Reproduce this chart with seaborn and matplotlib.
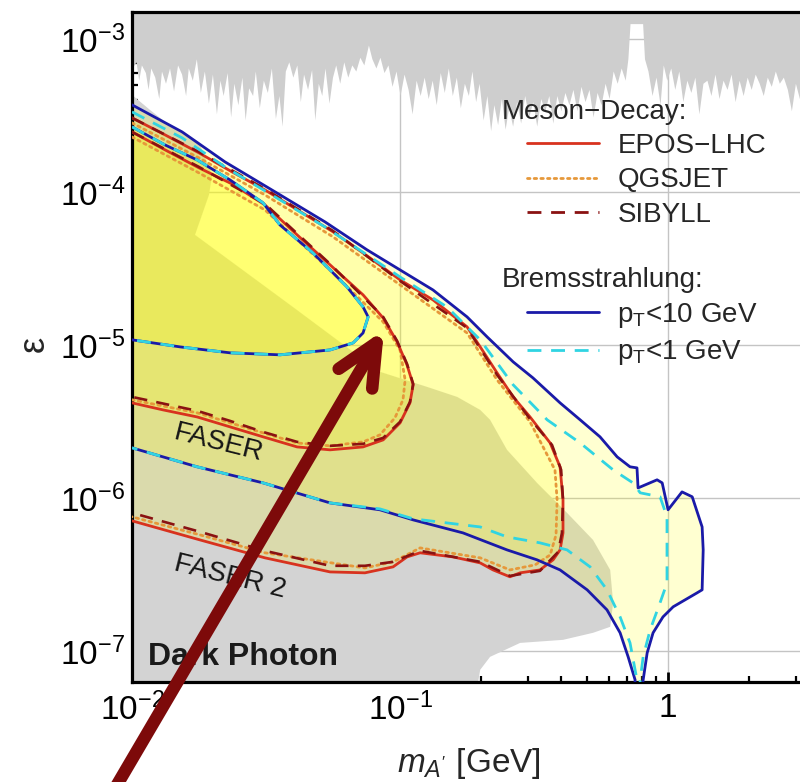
import numpy as np
import matplotlib
matplotlib.use("Agg")
import matplotlib.pyplot as plt
from matplotlib.lines import Line2D
from matplotlib.ticker import FixedLocator, FixedFormatter, LogLocator, NullFormatter
import seaborn as sns

# ---- values, stored as log10(m_A' / GeV) and log10(eps) ----
# existing limits from above: lower edge of the jagged grey band, (log m, log eps) pairs
TOP_BAND_EDGE = [
    (-2.000, -3.19), (-1.985, -3.15), (-1.975, -3.27), (-1.965, -3.17), (-1.950, -3.22),
    (-1.940, -3.33), (-1.930, -3.19), (-1.915, -3.25), (-1.900, -3.39), (-1.890, -3.21),
    (-1.875, -3.29), (-1.860, -3.19), (-1.845, -3.34), (-1.830, -3.17), (-1.815, -3.23),
    (-1.800, -3.37), (-1.790, -3.19), (-1.775, -3.27), (-1.760, -3.13), (-1.745, -3.35),
    (-1.730, -3.21), (-1.715, -3.42), (-1.700, -3.23), (-1.685, -3.49), (-1.672, -3.27),
    (-1.660, -3.37), (-1.645, -3.22), (-1.632, -3.51), (-1.620, -3.29), (-1.605, -3.43),
    (-1.590, -3.25), (-1.578, -3.53), (-1.565, -3.32), (-1.550, -3.37), (-1.540, -3.21),
    (-1.525, -3.45), (-1.510, -3.27), (-1.495, -3.35), (-1.480, -3.19), (-1.465, -3.52),
    (-1.452, -3.37), (-1.440, -3.57), (-1.428, -3.21), (-1.415, -3.15), (-1.400, -3.25),
    (-1.385, -3.17), (-1.372, -3.41), (-1.360, -3.23), (-1.345, -3.33), (-1.330, -3.20),
    (-1.318, -3.53), (-1.305, -3.29), (-1.292, -3.37), (-1.280, -3.19), (-1.265, -3.42),
    (-1.252, -3.25), (-1.240, -3.17), (-1.225, -3.29), (-1.210, -3.15), (-1.195, -3.25),
    (-1.180, -3.17), (-1.165, -3.21), (-1.150, -3.12), (-1.135, -3.17), (-1.118, -3.04),
    (-1.105, -3.13), (-1.090, -3.19), (-1.075, -3.12), (-1.060, -3.22), (-1.045, -3.17),
    (-1.030, -3.31), (-1.015, -3.21), (-1.000, -3.37), (-0.985, -3.23), (-0.970, -3.33),
    (-0.955, -3.49), (-0.940, -3.27), (-0.925, -3.37), (-0.910, -3.25), (-0.895, -3.39),
    (-0.880, -3.27), (-0.865, -3.43), (-0.850, -3.22), (-0.835, -3.35), (-0.820, -3.19),
    (-0.805, -3.37), (-0.790, -3.25), (-0.775, -3.45), (-0.760, -3.29), (-0.745, -3.37),
    (-0.732, -3.21), (-0.718, -3.41), (-0.705, -3.29), (-0.690, -3.53), (-0.676, -3.37),
    (-0.662, -3.60), (-0.650, -3.43), (-0.636, -3.56), (-0.622, -3.39), (-0.608, -3.59),
    (-0.595, -3.45), (-0.580, -3.57), (-0.565, -3.41), (-0.550, -3.55), (-0.535, -3.37),
    (-0.520, -3.51), (-0.505, -3.41), (-0.490, -3.57), (-0.475, -3.39), (-0.460, -3.47),
    (-0.445, -3.37), (-0.430, -3.55), (-0.415, -3.37), (-0.400, -3.47), (-0.385, -3.35),
    (-0.370, -3.43), (-0.355, -3.33), (-0.340, -3.47), (-0.325, -3.31), (-0.310, -3.41),
    (-0.295, -3.33), (-0.280, -3.51), (-0.265, -3.35), (-0.250, -3.43), (-0.235, -3.29),
    (-0.220, -3.39), (-0.205, -3.21), (-0.190, -3.29), (-0.175, -3.19), (-0.160, -3.27),
    (-0.150, -3.13), (-0.142, -2.90), (-0.095, -2.90), (-0.088, -3.13), (-0.075, -3.21),
    (-0.060, -3.37), (-0.045, -3.25), (-0.030, -3.43), (-0.018, -3.17), (-0.005, -3.27),
    (0.010, -3.19), (0.025, -3.33), (0.040, -3.21), (0.055, -3.41), (0.070, -3.27),
    (0.085, -3.35), (0.100, -3.25), (0.115, -3.49), (0.130, -3.29), (0.145, -3.27),
    (0.160, -3.37), (0.175, -3.23), (0.190, -3.39), (0.205, -3.27), (0.220, -3.33),
    (0.235, -3.23), (0.250, -3.41), (0.265, -3.27), (0.280, -3.37), (0.295, -3.25),
    (0.310, -3.33), (0.325, -3.23), (0.340, -3.29), (0.355, -3.37), (0.370, -3.25),
    (0.385, -3.31), (0.400, -3.21), (0.415, -3.29), (0.430, -3.25), (0.445, -3.33),
    (0.460, -3.47), (0.475, -3.29), (0.490, -3.39), (0.505, -3.27), (0.520, -3.35),
]

# existing limits from below (beam dumps, SN1987A ...)
BOUND_LOGM = [-2.000, -2.000, -1.933, -1.877, -1.746, -1.701, -1.713, -1.765, -1.410, -1.075,
              -0.888, -0.787, -0.701, -0.664, -0.601, -0.489, -0.377, -0.280, -0.216, -0.205,
              -0.216, -0.280, -0.392, -0.552, -0.664, -0.701, -0.720]
BOUND_LOGEPS = [-7.320, -3.366, -3.464, -3.542, -3.693, -3.889, -4.020, -4.281, -4.739, -5.176,
                -5.281, -5.340, -5.425, -5.490, -5.686, -5.902, -6.098, -6.275, -6.471, -6.686,
                -6.843, -6.882, -6.928, -6.948, -7.039, -7.124, -7.320]

# FASER 2, bremsstrahlung, pT < 10 GeV
F2_BREM10_LOGM = [-2.000, -1.813, -1.653, -1.466, -1.280, -1.123, -1.000, -0.877, -0.750, -0.675,
                  -0.578, -0.504, -0.403, -0.328, -0.254, -0.190, -0.142, -0.116, -0.112, -0.041,
                  -0.022, 0.000, 0.052, 0.090, 0.127, 0.131, 0.127, 0.108, 0.019, -0.019,
                  -0.056, -0.078, -0.093, -0.100, -0.127, -0.123, -0.149, -0.179, -0.228, -0.302,
                  -0.403, -0.489, -0.601, -0.765, -0.951, -1.075, -1.261, -1.511, -1.757, -2.000]
F2_BREM10_LOGEPS = [-3.431, -3.608, -3.804, -4.000, -4.196, -4.379, -4.510, -4.641, -4.817, -4.948,
                    -5.111, -5.216, -5.379, -5.490, -5.601, -5.732, -5.797, -5.804, -5.935, -5.882,
                    -5.902, -6.078, -5.961, -5.993, -6.190, -6.340, -6.601, -6.621, -6.712, -6.778,
                    -6.882, -7.013, -7.190, -7.320, -7.320, -7.190, -7.039, -6.882, -6.732, -6.601,
                    -6.471, -6.405, -6.340, -6.229, -6.144, -6.078, -6.033, -5.902, -5.797, -5.673]

# FASER 2, bremsstrahlung, pT < 1 GeV
F2_BREM1_LOGM = [-2.000, -1.813, -1.653, -1.466, -1.280, -1.123, -1.000, -0.825, -0.701, -0.578,
                 -0.451, -0.328, -0.205, -0.131, -0.104, -0.030, -0.004, -0.004, -0.004, -0.030,
                 -0.067, -0.093, -0.104, -0.108, -0.119, -0.116, -0.142, -0.179, -0.228, -0.291,
                 -0.377, -0.478, -0.601, -0.701, -0.951, -1.075, -1.261, -1.511, -1.757, -2.000]
F2_BREM1_LOGEPS = [-3.477, -3.647, -3.837, -4.033, -4.229, -4.412, -4.556, -4.752, -4.967, -5.261,
                   -5.490, -5.641, -5.817, -5.902, -5.967, -5.993, -6.124, -6.340, -6.556, -6.686,
                   -6.863, -7.039, -7.190, -7.320, -7.320, -7.190, -6.948, -6.778, -6.601, -6.451,
                   -6.340, -6.294, -6.255, -6.190, -6.137, -6.072, -6.033, -5.902, -5.797, -5.673]

# FASER 2, meson decays (EPOS-LHC / QGSJET / SIBYLL)
F2_EPOS_LOGM = [-2.000, -1.877, -1.750, -1.627, -1.504, -1.377, -1.250, -1.123, -1.000, -0.877,
                -0.750, -0.701, -0.638, -0.578, -0.515, -0.440, -0.403, -0.392, -0.392, -0.403,
                -0.429, -0.478, -0.552, -0.590, -0.653, -0.701, -0.802, -0.925, -0.974, -1.026,
                -1.131, -1.261, -1.504, -1.746, -2.000]
F2_EPOS_LOGEPS = [-3.516, -3.627, -3.745, -3.869, -3.987, -4.124, -4.261, -4.418, -4.575, -4.706,
                  -4.882, -5.013, -5.183, -5.340, -5.471, -5.641, -5.797, -6.013, -6.229, -6.340,
                  -6.405, -6.471, -6.490, -6.516, -6.471, -6.425, -6.386, -6.359, -6.386, -6.451,
                  -6.490, -6.484, -6.392, -6.275, -6.150]
F2_QGS_LOGM = [-2.000, -1.750, -1.504, -1.250, -1.000, -0.750, -0.638, -0.515, -0.422, -0.414,
               -0.418, -0.440, -0.496, -0.590, -0.701, -0.925, -1.026, -1.131, -1.504, -1.746,
               -2.000]
F2_QGS_LOGEPS = [-3.549, -3.778, -4.020, -4.294, -4.608, -4.922, -5.229, -5.503, -5.817, -6.013,
                 -6.242, -6.373, -6.438, -6.471, -6.392, -6.327, -6.418, -6.458, -6.359, -6.242,
                 -6.124]
F2_SIB_LOGM = [-2.000, -1.750, -1.504, -1.250, -1.000, -0.750, -0.638, -0.515, -0.433, -0.399,
               -0.392, -0.396, -0.410, -0.478, -0.590, -0.701, -0.925, -1.026, -1.131, -1.261,
               -1.504, -1.746, -2.000]
F2_SIB_LOGEPS = [-3.516, -3.739, -3.980, -4.255, -4.582, -4.889, -5.196, -5.484, -5.654, -5.817,
                 -6.013, -6.229, -6.353, -6.477, -6.510, -6.418, -6.346, -6.418, -6.444, -6.444,
                 -6.346, -6.222, -6.098]

# FASER, meson decays
F1_EPOS_LOGM = [-2.000, -1.877, -1.750, -1.627, -1.504, -1.384, -1.261, -1.138, -1.063, -1.011,
                -0.974, -0.951, -0.963, -1.000, -1.063, -1.138, -1.261, -1.384, -1.511, -1.634,
                -1.757, -1.884, -2.000]
F1_EPOS_LOGEPS = [-3.608, -3.725, -3.843, -3.948, -4.085, -4.281, -4.477, -4.673, -4.824, -4.980,
                  -5.131, -5.261, -5.379, -5.510, -5.621, -5.667, -5.686, -5.667, -5.601, -5.536,
                  -5.471, -5.425, -5.379]
F1_QGS_LOGM = [-2.000, -1.750, -1.504, -1.261, -1.063, -1.000, -0.981, -0.989, -1.019, -1.075,
               -1.138, -1.261, -1.384, -1.511, -1.757, -2.000]
F1_QGS_LOGEPS = [-3.641, -3.876, -4.118, -4.510, -4.850, -5.033, -5.229, -5.359, -5.477, -5.588,
                 -5.634, -5.660, -5.641, -5.575, -5.444, -5.359]
F1_SIB_LOGM = [-2.000, -1.750, -1.504, -1.261, -1.063, -1.011, -0.974, -0.951, -0.963, -1.000,
               -1.063, -1.138, -1.261, -1.384, -1.511, -1.634, -1.757, -2.000]
F1_SIB_LOGEPS = [-3.608, -3.837, -4.078, -4.471, -4.817, -4.974, -5.124, -5.255, -5.373, -5.503,
                 -5.608, -5.647, -5.660, -5.634, -5.569, -5.497, -5.431, -5.340]

# FASER, bremsstrahlung (both pT cuts coincide)
F1_BREM_LOGM = [-2.000, -1.877, -1.757, -1.634, -1.511, -1.448, -1.325, -1.261, -1.198, -1.138,
                -1.119, -1.138, -1.175, -1.261, -1.448, -1.634, -1.821, -2.000]
F1_BREM_LOGEPS = [-3.575, -3.693, -3.791, -3.922, -4.072, -4.216, -4.399, -4.510, -4.621, -4.752,
                  -4.817, -4.922, -4.987, -5.033, -5.065, -5.052, -5.013, -4.967]

X_TICKS = [0.01, 0.1, 1.0]
X_TICK_LABELS = ["$10^{-2}$", "$10^{-1}$", "1"]
Y_TICKS = [1e-7, 1e-6, 1e-5, 1e-4, 1e-3]
Y_TICK_LABELS = ["$10^{-7}$", "$10^{-6}$", "$10^{-5}$", "$10^{-4}$", "$10^{-3}$"]

EPOS_C, QGS_C, SIB_C = "#d8321e", "#e6983a", "#8a1212"
BLUE_C, CYAN_C = "#1a1aa8", "#30d4e2"
DOT = (0, (0.9, 1.5))
DASH = (0, (5, 3.5))


def lin(logm, logeps):
    return 10 ** np.asarray(logm), 10 ** np.asarray(logeps)


sns.set_theme(style="white")
plt.rcParams["font.family"] = ["Liberation Sans", "DejaVu Sans"]
plt.rcParams["mathtext.fontset"] = "custom"
plt.rcParams["mathtext.rm"] = "Liberation Sans"
plt.rcParams["mathtext.it"] = "Liberation Sans:italic"
plt.rcParams["mathtext.bf"] = "Liberation Sans:bold"

fig = plt.figure(figsize=(8, 7.82), dpi=100)
ax = fig.add_axes([0.165, 0.1279, 0.8425, 0.8568])
ax.set_xscale("log")
ax.set_yscale("log")

# ---- shaded regions -------------------------------------------------------
top_lm, top_le = zip(*TOP_BAND_EDGE)
m, e = lin(top_lm, top_le)
ax.fill_between(m, e, 1e-2, color="#cecece", lw=0, zorder=1)
m, e = lin(BOUND_LOGM, BOUND_LOGEPS)
ax.fill(m, e, color="#d3d3d3", lw=0, zorder=1)
for lm, le in [(F2_EPOS_LOGM, F2_EPOS_LOGEPS), (F2_BREM10_LOGM, F2_BREM10_LOGEPS),
               (F1_EPOS_LOGM, F1_EPOS_LOGEPS), (F1_BREM_LOGM, F1_BREM_LOGEPS)]:
    m, e = lin(lm, le)
    ax.fill(m, e, color="#ffff00", alpha=0.18, lw=0, zorder=2)

# ---- contour lines --------------------------------------------------------
def draw(lm, le, **kw):
    m, e = lin(lm, le)
    sns.lineplot(x=m, y=e, sort=False, estimator=None, ax=ax, **kw)


for pre in ("F2", "F1"):
    g = globals()
    draw(g[pre + "_QGS_LOGM"], g[pre + "_QGS_LOGEPS"], color=QGS_C, lw=2.0,
         linestyle=DOT, dash_capstyle="round", zorder=4)
    draw(g[pre + "_EPOS_LOGM"], g[pre + "_EPOS_LOGEPS"], color=EPOS_C, lw=2.0, zorder=5)
    draw(g[pre + "_SIB_LOGM"], g[pre + "_SIB_LOGEPS"], color=SIB_C, lw=1.9,
         linestyle=DASH, zorder=6)

draw(F2_BREM10_LOGM, F2_BREM10_LOGEPS, color=BLUE_C, lw=2.0, zorder=7)
draw(F2_BREM1_LOGM, F2_BREM1_LOGEPS, color=CYAN_C, lw=2.0, linestyle=DASH, zorder=8)
draw(F1_BREM_LOGM, F1_BREM_LOGEPS, color=BLUE_C, lw=2.0, zorder=7)
draw(F1_BREM_LOGM, F1_BREM_LOGEPS, color=CYAN_C, lw=2.0, linestyle=DASH, zorder=8)

# ---- axes -----------------------------------------------------------------
ax.set_xlim(0.01, 3.27)
ax.set_ylim(6.26e-8, 1.50e-3)
ax.xaxis.set_major_locator(FixedLocator(X_TICKS))
ax.xaxis.set_major_formatter(FixedFormatter(X_TICK_LABELS))
ax.yaxis.set_major_locator(FixedLocator(Y_TICKS))
ax.yaxis.set_major_formatter(FixedFormatter(Y_TICK_LABELS))
for axis in (ax.xaxis, ax.yaxis):
    axis.set_minor_locator(LogLocator(base=10, subs=np.arange(2, 10), numticks=30))
    axis.set_minor_formatter(NullFormatter())
ax.tick_params(which="both", direction="in", left=True, bottom=True, top=False, right=False,
               colors="black", labelsize=24)
ax.tick_params(which="major", length=7.5, width=2.0, pad=5)
ax.tick_params(which="minor", length=4.5, width=1.6)
ax.tick_params(axis="x", which="major", pad=8)
for side in ("left", "bottom", "top"):
    ax.spines[side].set_color("black")
    ax.spines[side].set_linewidth(2.3)
ax.spines["right"].set_visible(False)
ax.grid(True, which="major", color="#c4c4c4", lw=1.0)
ax.set_axisbelow(True)

ax.set_xlabel("$m_{A'}$ [GeV]", fontsize=24)
ax.xaxis.set_label_coords(0.5, -0.095)
ax.set_ylabel("ε", fontsize=26)
ax.yaxis.set_label_coords(-0.119, 0.505)

# ---- in-plot labels -------------------------------------------------------
ax.text(0.128, 0.357, "FASER", transform=ax.transAxes, fontsize=20, rotation=-14,
        ha="center", va="center", color="#161616", zorder=9)
ax.text(0.145, 0.157, "FASER 2", transform=ax.transAxes, fontsize=20, rotation=-14,
        ha="center", va="center", color="#161616", zorder=9)
ax.text(0.024, 0.037, "Dark Photon", transform=ax.transAxes, fontsize=23,
        fontweight="bold", ha="left", va="center", color="#1a1a1a", zorder=9)

# ---- legends --------------------------------------------------------------
leg_kw = dict(loc="upper left", bbox_transform=fig.transFigure, frameon=False, fontsize=20,
              handlelength=2.6, handletextpad=0.65, labelspacing=0.3, borderpad=0,
              borderaxespad=0)
h1 = [Line2D([], [], color=EPOS_C, lw=2.0),
      Line2D([], [], color=QGS_C, lw=2.0, ls=DOT, dash_capstyle="round"),
      Line2D([], [], color=SIB_C, lw=2.0, ls=DASH)]
leg1 = ax.legend(h1, ["EPOS−LHC", "QGSJET", "SIBYLL"],
                 bbox_to_anchor=(527 / 800, 1 - 133 / 782), **leg_kw)
ax.add_artist(leg1)
h2 = [Line2D([], [], color=BLUE_C, lw=2.0),
      Line2D([], [], color=CYAN_C, lw=2.0, ls=DASH)]
ax.legend(h2, ["p$_{\\rm T}$<10 GeV", "p$_{\\rm T}$<1 GeV"],
          bbox_to_anchor=(527 / 800, 1 - 301 / 782), **leg_kw)
fig.text(502 / 800, 1 - 112 / 782, "Meson−Decay:", fontsize=20, va="center", ha="left")
fig.text(502 / 800, 1 - 280 / 782, "Bremsstrahlung:", fontsize=20, va="center", ha="left")

# ---- pointer arrow --------------------------------------------------------
ax.annotate("", xy=(384, 452), xycoords="figure pixels", xytext=(114, -8),
            textcoords="figure pixels", annotation_clip=False, zorder=20,
            arrowprops=dict(arrowstyle="->,head_length=3.0,head_width=1.4", color="#7d0a0a",
                            lw=9, shrinkA=0, shrinkB=0, mutation_scale=10))

fig.savefig("out.png", dpi=100)
